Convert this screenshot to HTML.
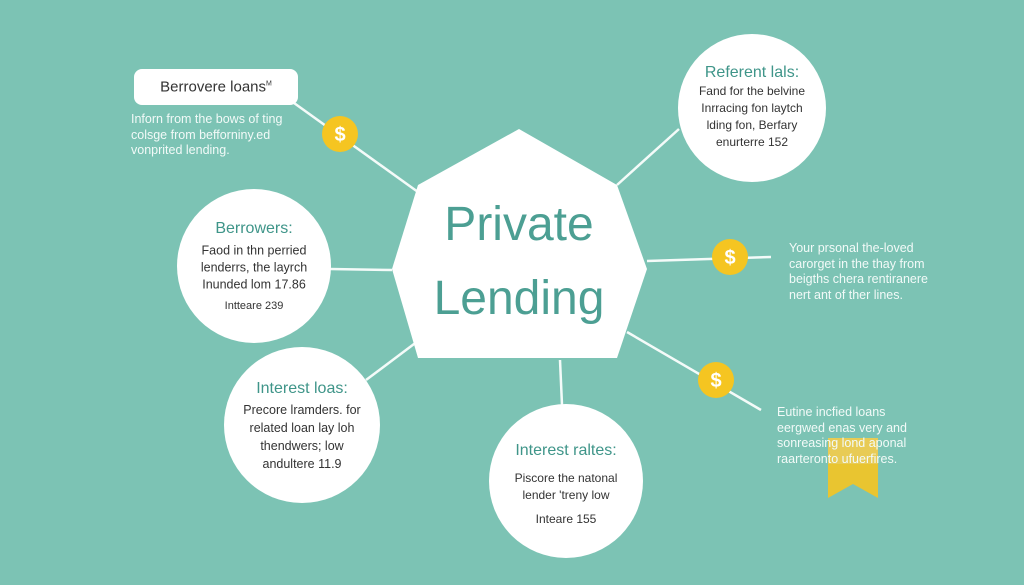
<!DOCTYPE html>
<html><head><meta charset="utf-8"><style>
body{margin:0;width:1024px;height:585px;overflow:hidden;background:#7cc3b4;font-family:"Liberation Sans",sans-serif}
svg{position:absolute;left:0;top:0}
.t{position:absolute;text-align:center;transform:translate(-50%,-50%);white-space:nowrap;color:#333;font-size:12.5px}
.h{color:#3f9589;font-size:16px}
.w{position:absolute;color:#f2faf8;font-size:12.5px;line-height:15.5px;white-space:nowrap}
</style></head><body>
<svg width="1024" height="585">
<g stroke="#f4fbf9" stroke-width="2.5" fill="none">
<line x1="294" y1="103" x2="418" y2="192"/>
<line x1="679" y1="129" x2="617" y2="185"/>
<line x1="330" y1="269" x2="392" y2="270"/>
<line x1="366" y1="380" x2="418" y2="341"/>
<line x1="560" y1="360" x2="562" y2="405"/>
<line x1="647" y1="261" x2="771" y2="257"/>
<line x1="627" y1="332" x2="761" y2="410"/>
</g>
<polygon points="519,129 617,185 647,269 617,358 418,358 392,269 418,185" fill="#fff"/>
<rect x="134" y="69" width="164" height="36" rx="8" fill="#fff"/>
<circle cx="752" cy="108" r="74" fill="#fff"/>
<circle cx="254" cy="266" r="77" fill="#fff"/>
<circle cx="302" cy="425" r="78" fill="#fff"/>
<circle cx="566" cy="481" r="77" fill="#fff"/>
<g fill="#f5c521">
<circle cx="340" cy="134" r="18"/>
<circle cx="730" cy="257" r="18"/>
<circle cx="716" cy="380" r="18"/>
<path d="M828 438 H878 V498 L853 484 L828 498 Z" opacity="0.9"/>
</g>
<rect x="828" y="438" width="50" height="26" fill="#e8d27a" opacity="0.5"/>
<g fill="#fff" font-family="Liberation Sans" font-weight="bold" font-size="20" text-anchor="middle">
<text x="340" y="141">$</text><text x="730" y="264">$</text><text x="716" y="387">$</text>
</g>
<text x="519" y="240" fill="#4c9f93" font-size="48" text-anchor="middle" font-family="Liberation Sans">Private</text>
<text x="519" y="314" fill="#4c9f93" font-size="48" text-anchor="middle" font-family="Liberation Sans">Lending</text>
</svg>
<div class="t" style="left:216px;top:87px;font-size:15px">Berrovere loans<sup style="font-size:7px">M</sup></div>
<div class="w" style="left:131px;top:112px">Inforn from the bows of ting<br>colsge from beffornіny.ed<br>vonprited lending.</div>
<div class="w" style="left:789px;top:241px">Your prsonal the-loved<br>carorget in the thay from<br>beigths chera rentiranere<br>nert ant of ther lines.</div>
<div class="w" style="left:777px;top:405px">Eutine incfied loans<br>eergwed enas very and<br>sonreasing lond aponal<br>raarteronto ufuerfires.</div>
<div class="t h" style="left:752px;top:73px">Referent lals:</div>
<div class="t" style="left:752px;top:117px;line-height:17px;font-size:12px">Fand for the belvine<br>Inrracing fon laytch<br>lding fon, Berfary<br>enurterre 152</div>
<div class="t h" style="left:254px;top:229px">Berrowers:</div>
<div class="t" style="left:254px;top:268px;line-height:17px">Faod in thn perried<br>lenderrs, the layrch<br>Inunded lom 17.86</div>
<div class="t" style="left:254px;top:306px;font-size:11px">Intteare 239</div>
<div class="t h" style="left:302px;top:389px">Interest loas:</div>
<div class="t" style="left:302px;top:437px;line-height:18px">Precore lramders. for<br>related loan lay loh<br>thendwers; low<br>andultere 11.9</div>
<div class="t h" style="left:566px;top:451px">Interest raltes:</div>
<div class="t" style="left:566px;top:487px;line-height:17px;font-size:12px">Piscore the natonal<br>lender 'treny low</div>
<div class="t" style="left:566px;top:519px;font-size:12px">Inteare 155</div>
</body></html>
